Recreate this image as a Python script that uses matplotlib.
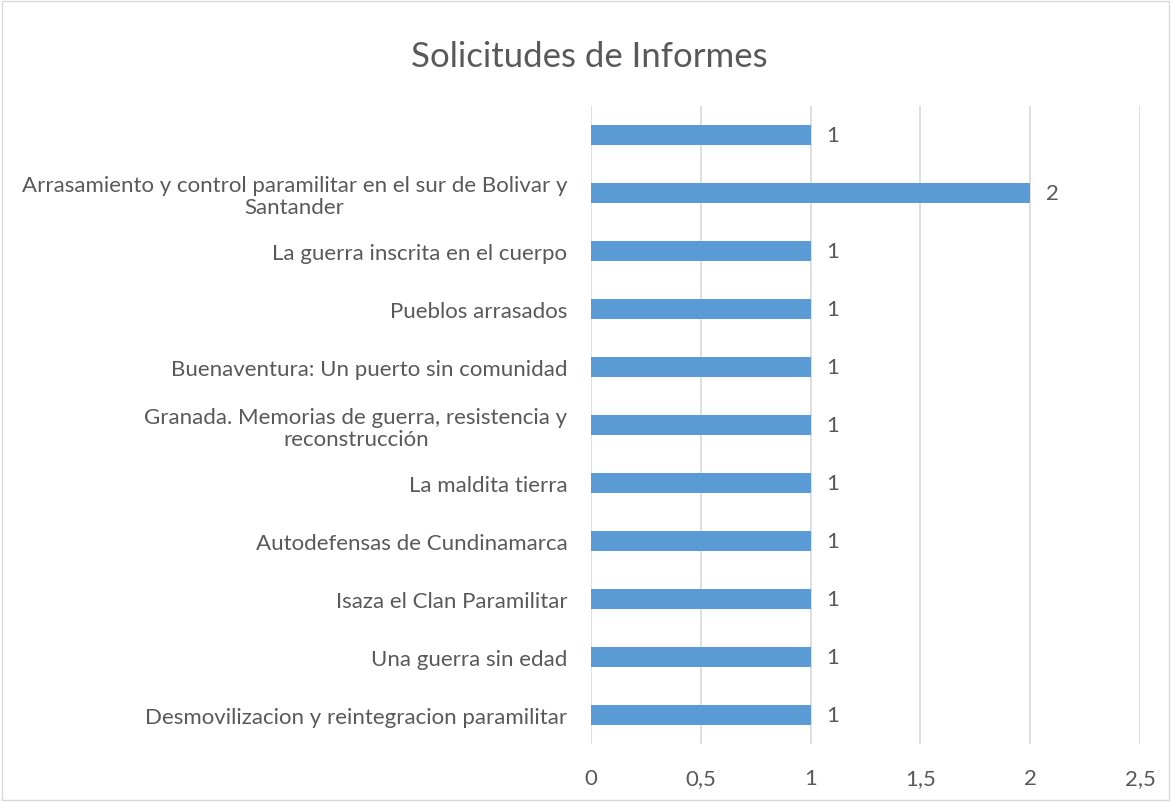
import matplotlib.pyplot as plt
import numpy as np

categories = [
    "Desmovilizacion y reintegracion paramilitar",
    "Una guerra sin edad",
    "Isaza el Clan Paramilitar",
    "Autodefensas de Cundinamarca",
    "La maldita tierra",
    "Granada. Memorias de guerra, resistencia y\nreconstrucción",
    "Buenaventura: Un puerto sin comunidad",
    "Pueblos arrasados",
    "La guerra inscrita en el cuerpo",
    "Arrasamiento y control paramilitar en el sur de Bolivar y\nSantander",
    "",
]
values = [1, 1, 1, 1, 1, 1, 1, 1, 1, 2, 1]
xticks = [0, 0.5, 1, 1.5, 2, 2.5]
xtick_labels = ["0", "0,5", "1", "1,5", "2", "2,5"]

plt.rcParams['font.family'] = ['Lato', 'DejaVu Sans']
text_color = "#595959"
fs = 16

fig = plt.figure(figsize=(11.71, 8.03), dpi=100)
ax = fig.add_axes([0.5047, 0.0722, 0.4688, 0.7945])

y = np.arange(len(categories))
ax.barh(y, values, height=0.36, color="#5B9BD5", zorder=3)
for yi, v in zip(y, values):
    ax.text(v + 0.07, yi, str(v), va="center", ha="left", fontsize=fs, color=text_color)

ax.set_xlim(0, 2.5)
ax.set_ylim(-0.5, len(categories) - 0.5)
ax.set_yticks(y)
ax.set_yticklabels(categories, fontsize=fs, color=text_color, multialignment="center",
                   linespacing=1.15)
ax.set_xticks(xticks)
ax.set_xticklabels(xtick_labels, fontsize=fs, color=text_color)
ax.tick_params(axis="both", length=0)
ax.tick_params(axis="y", pad=17)
ax.tick_params(axis="x", pad=17)
ax.grid(axis="x", color="#D9D9D9", linewidth=1.2, zorder=0)
for s in ax.spines.values():
    s.set_visible(False)

fig.text(0.503, 0.929, "Solicitudes de Informes", ha="center", va="center",
         fontsize=25, color=text_color)

border = plt.Rectangle((0.002, 0.002), 0.996, 0.996, transform=fig.transFigure,
                       fill=False, edgecolor="#D9D9D9", linewidth=1)
fig.patches.append(border)

fig.savefig("out.png", dpi=100)
